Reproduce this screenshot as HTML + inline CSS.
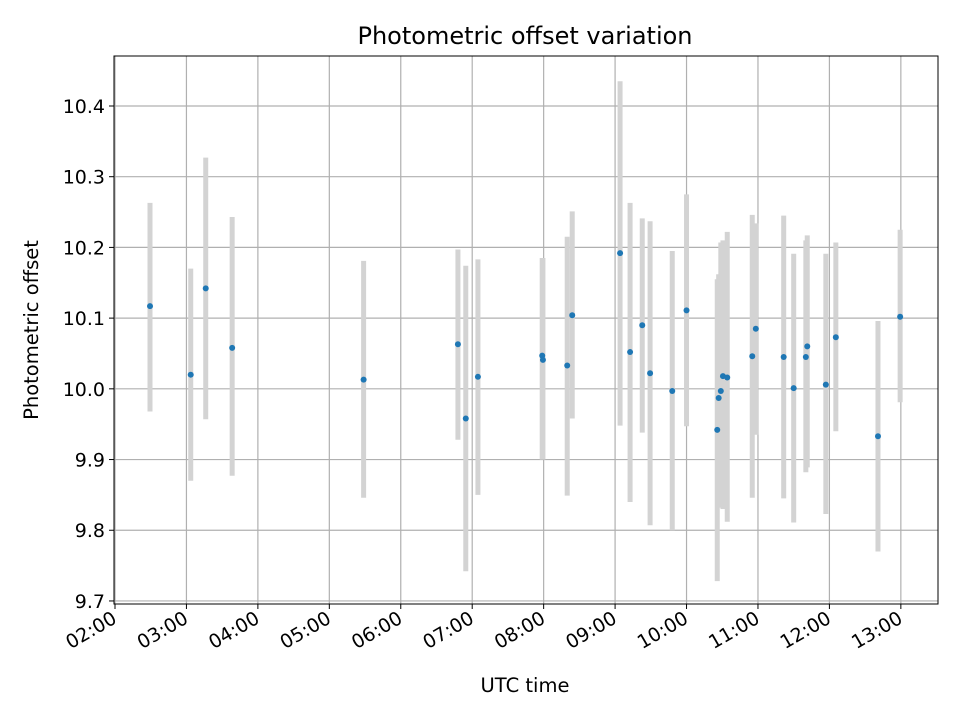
<!DOCTYPE html>
<html><head><meta charset="utf-8"><style>
body{margin:0;background:#fff;}
text{font-family:"DejaVu Sans","Liberation Sans",sans-serif;fill:#000;}
</style></head><body>
<svg id="chart" width="960" height="720" xmlns="http://www.w3.org/2000/svg">
<rect width="960" height="720" fill="#fff"/>
<g id="grid"></g>
<g id="bars"></g>
<g id="pts"></g>
<rect x="114" y="56" width="824" height="548" fill="none" stroke="#000" stroke-width="1"/>
<g id="axes"></g>
<text x="525" y="44" style="font-size:24px" text-anchor="middle">Photometric offset variation</text>
<text x="525" y="692" style="font-size:19.5px" text-anchor="middle">UTC time</text>
<text x="38" y="330" style="font-size:19.5px" text-anchor="middle" transform="rotate(-90 38 330)">Photometric offset</text>
</svg>
<script>
const times=[2.49,3.06,3.27,3.64,5.48,6.80,6.91,7.08,7.98,7.99,8.33,8.40,9.07,9.21,9.38,9.49,9.80,10.0,10.43,10.45,10.48,10.51,10.57,10.92,10.97,11.36,11.50,11.67,11.69,11.95,12.09,12.68,12.99];
const values=[10.117,10.02,10.142,10.058,10.013,10.063,9.958,10.017,10.047,10.041,10.033,10.104,10.192,10.052,10.09,10.022,9.997,10.111,9.942,9.987,9.997,10.018,10.016,10.046,10.085,10.045,10.001,10.045,10.06,10.006,10.073,9.933,10.102];
const upper=[10.263,10.17,10.327,10.243,10.181,10.197,10.174,10.183,10.185,10.185,10.215,10.251,10.435,10.263,10.241,10.237,10.195,10.275,10.155,10.162,10.207,10.21,10.222,10.246,10.234,10.245,10.191,10.21,10.217,10.191,10.207,10.096,10.225];
const lower=[9.968,9.87,9.957,9.877,9.846,9.928,9.742,9.850,9.900,9.900,9.849,9.958,9.948,9.84,9.938,9.807,9.80,9.947,9.728,9.843,9.832,9.83,9.812,9.846,9.935,9.845,9.811,9.882,9.889,9.823,9.940,9.770,9.981];
const xTicks=[2,3,4,5,6,7,8,9,10,11,12,13];
const yTicks=[9.7,9.8,9.9,10.0,10.1,10.2,10.3,10.4];
const NS='http://www.w3.org/2000/svg';
const X0=114,X1=938,Y0=56,Y1=604;
const xMin=1.986,xMax=13.52,yMin=9.6957,yMax=10.4707;
const sx=v=>X0+(v-xMin)/(xMax-xMin)*(X1-X0);
const sy=v=>Y1-(v-yMin)/(yMax-yMin)*(Y1-Y0);
function mk(tag,attrs,parent){const e=document.createElementNS(NS,tag);for(const k in attrs)e.setAttribute(k,attrs[k]);parent.appendChild(e);return e;}
const grid=document.getElementById('grid'),axes=document.getElementById('axes'),bars=document.getElementById('bars'),pts=document.getElementById('pts');
xTicks.forEach(t=>{const x=sx(t);
 const g=mk('line',{x1:x,x2:x,y1:Y0,y2:Y1,stroke:'#b0b0b0','stroke-width':1.2},grid);
 
 mk('line',{x1:x,x2:x,y1:Y1,y2:Y1+5,stroke:'#000'},axes);
 const lx=x+3,ly=Y1+18;
 const lb=mk('text',{x:lx,y:ly,style:'font-size:19px','text-anchor':'end',transform:`rotate(-30 ${lx} ${ly})`},axes);
 
 lb.textContent=String(t).padStart(2,'0')+':00';});
yTicks.forEach(t=>{const y=sy(t);
 const g=mk('line',{x1:X0,x2:X1,y1:y,y2:y,stroke:'#b0b0b0','stroke-width':1.2},grid);
 
 mk('line',{x1:X0-5,x2:X0,y1:y,y2:y,stroke:'#000'},axes);
 const lb=mk('text',{x:X0-9,y:y+7,style:'font-size:19px','text-anchor':'end'},axes);
 
 lb.textContent=t.toFixed(1);});
times.forEach((t,i)=>{const x=sx(t);
 const b=mk('line',{x1:x,x2:x,y1:sy(upper[i]),y2:sy(lower[i]),stroke:'#d3d3d3','stroke-width':5},bars);
 });
times.forEach((t,i)=>{
 const c=mk('circle',{cx:sx(t),cy:sy(values[i]),r:3,fill:'#1f77b4'},pts);
 });
</script>
</body></html>
